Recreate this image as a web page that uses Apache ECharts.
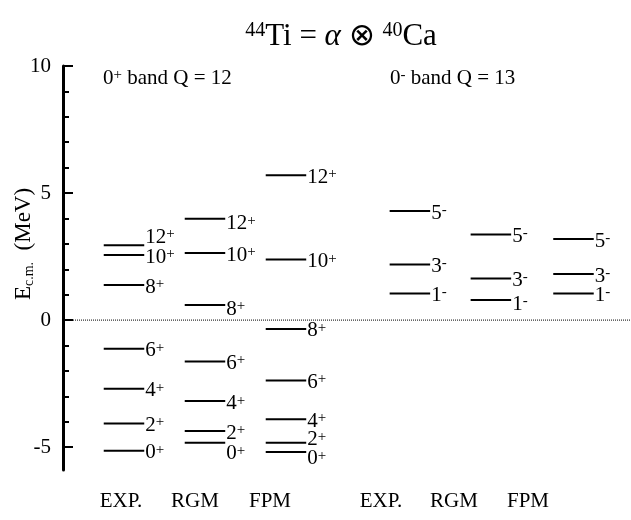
<!DOCTYPE html>
<html>
<head>
<meta charset="utf-8">
<title>44Ti alpha + 40Ca levels</title>
<script src="https://cdn.jsdelivr.net/npm/echarts@6/dist/echarts.min.js"></script>
<style>
  html, body { margin: 0; padding: 0; background: #fff; }
  #chart { width: 631px; height: 520px; }
</style>
</head>
<body>
<div id="chart"></div>
<script>
// Column names along the bottom
const columnNames = ['EXP.', 'RGM', 'FPM', 'EXP.', 'RGM', 'FPM'];

// Positive-parity band (0+ band, Q = 12): spins and energies (MeV, relative to the α + 40Ca threshold)
const spinsPos = ['0', '2', '4', '6', '8', '10', '12'];
const expPos = [-5.14, -4.07, -2.70, -1.13, 1.38, 2.56, 2.95];
const rgmPos = [-4.83, -4.37, -3.18, -1.63, 0.59, 2.64, 3.99];
const fpmPos = [-5.19, -4.83, -3.90, -2.38, -0.35, 2.38, 5.70];

// Negative-parity band (0- band, Q = 13)
const spinsNeg = ['1', '3', '5'];
const expNeg = [1.05, 2.19, 4.29];
const rgmNeg = [0.79, 1.64, 3.37];
const fpmNeg = [1.05, 1.81, 3.19];

// Y-axis tick labels
const yTickLabels = [-5, 0, 5, 10];
const yMinorTicks = [-5, -4, -3, -2, -1, 0, 1, 2, 3, 4, 5, 6, 7, 8, 9, 10];

// ---- layout (x-units along the hidden value axis) ----
const layout = {
  colX: [0, 1, 2, 3.53, 4.53, 5.55],
  nameX: [-0.037, 0.877, 1.803, 3.173, 4.074, 4.988],
  half: 0.25,
  xMin: -0.753,
  xMax: 6.26
};
// vertical nudges (px) for level labels that would otherwise collide
const labelShift = { '0-6': -8, '1-0': 11, '1-4': 4, '1-6': 5, '1-2': 3, '2-0': 7, '2-1': -3, '4-0': 4 };

const FONT = "'Liberation Serif', 'Times New Roman', serif";

const columns = [
  { values: expPos, spins: spinsPos, sign: '+' },
  { values: rgmPos, spins: spinsPos, sign: '+' },
  { values: fpmPos, spins: spinsPos, sign: '+' },
  { values: expNeg, spins: spinsNeg, sign: '-' },
  { values: rgmNeg, spins: spinsNeg, sign: '-' },
  { values: fpmNeg, spins: spinsNeg, sign: '-' }
];

const levels = [];
columns.forEach((col, c) => {
  col.values.forEach((e, i) => {
    levels.push({ value: [layout.colX[c], e], spin: col.spins[i], sign: col.sign, key: c + '-' + i });
  });
});

const supRich = {
  n: { fontFamily: FONT, fontSize: 21, lineHeight: 21, color: '#000' },
  s: { fontFamily: FONT, fontSize: 15, lineHeight: 14, verticalAlign: 'top', color: '#000' }
};

function renderLevel(params, api) {
  const lv = levels[params.dataIndex];
  const x = api.value(0), e = api.value(1);
  const p0 = api.coord([x - layout.half, e]);
  const p1 = api.coord([x + layout.half, e]);
  const dy = labelShift[lv.key] !== undefined ? labelShift[lv.key] : 2;
  return {
    type: 'group',
    children: [
      {
        type: 'line',
        shape: { x1: p0[0], y1: p0[1], x2: p1[0], y2: p1[1] },
        style: { stroke: '#000', lineWidth: 2 }
      },
      {
        type: 'text',
        x: p1[0] + 1,
        y: p1[1] + dy,
        style: {
          text: '{n|' + lv.spin + '}{s|' + lv.sign + '}',
          rich: supRich,
          align: 'left',
          verticalAlign: 'middle'
        }
      }
    ]
  };
}

const chart = echarts.init(document.getElementById('chart'), null, { renderer: 'canvas' });

chart.setOption({
  backgroundColor: '#fff',
  animation: false,
  grid: { left: 63, right: 0, top: 66, bottom: 50, containLabel: false },
  xAxis: {
    type: 'value',
    min: layout.xMin,
    max: layout.xMax,
    axisLine: { show: false, onZero: false },
    axisTick: { show: false },
    splitLine: { show: false },
    axisLabel: {
      customValues: layout.nameX,
      formatter: function (v) {
        let best = 0, d = Infinity;
        layout.nameX.forEach((p, i) => { if (Math.abs(p - v) < d) { d = Math.abs(p - v); best = i; } });
        return columnNames[best];
      },
      margin: 21,
      fontFamily: FONT,
      fontSize: 21,
      color: '#000'
    }
  },
  yAxis: [
    {
      type: 'value',
      min: -5.9,
      max: 10,
      position: 'left',
      axisLine: { show: true, onZero: false, lineStyle: { color: '#000', width: 3 } },
      axisTick: { show: true, inside: true, length: 10, customValues: yTickLabels, lineStyle: { color: '#000', width: 2 } },
      axisLabel: { customValues: yTickLabels, margin: 12, fontFamily: FONT, fontSize: 21, color: '#000' },
      splitLine: { show: false }
    },
    {
      type: 'value',
      min: -5.9,
      max: 10,
      position: 'left',
      offset: 0,
      axisLine: { show: false, onZero: false },
      axisTick: { show: true, inside: true, length: 6, customValues: yMinorTicks, lineStyle: { color: '#000', width: 2 } },
      axisLabel: { show: false },
      splitLine: { show: false }
    }
  ],
  graphic: [
    {
      type: 'text',
      x: 341, y: 37,
      style: {
        text: '{s|44}{t|Ti = }{a|α}{t| ⊗ }{s|40}{t|Ca}',
        align: 'center',
        verticalAlign: 'middle',
        rich: {
          t: { fontFamily: FONT, fontSize: 31, lineHeight: 32, color: '#000' },
          a: { fontFamily: FONT, fontSize: 31, lineHeight: 32, fontStyle: 'italic', color: '#000' },
          s: { fontFamily: FONT, fontSize: 20, lineHeight: 20, verticalAlign: 'top', color: '#000' }
        }
      }
    },
    {
      type: 'text',
      x: 103, y: 78,
      style: {
        text: '{n|0}{s|+}{n| band Q = 12}',
        verticalAlign: 'middle',
        rich: supRich
      }
    },
    {
      type: 'text',
      x: 390, y: 78,
      style: {
        text: '{n|0}{s|-}{n| band Q = 13}',
        verticalAlign: 'middle',
        rich: supRich
      }
    },
    {
      type: 'text',
      x: 24, y: 244,
      rotation: Math.PI / 2,
      style: {
        text: '{e|E}{b|c.m.}{e|  (MeV)}',
        align: 'center',
        verticalAlign: 'middle',
        rich: {
          e: { fontFamily: FONT, fontSize: 23, lineHeight: 24, color: '#000' },
          b: { fontFamily: FONT, fontSize: 14, lineHeight: 14, verticalAlign: 'bottom', color: '#000' }
        }
      }
    }
  ],
  series: [
    {
      name: 'zero',
      type: 'line',
      data: [[layout.xMin, 0], [layout.xMax, 0]],
      symbol: 'none',
      silent: true,
      lineStyle: { color: '#000', width: 1, type: 'dotted' },
      z: 1
    },
    {
      name: 'levels',
      type: 'custom',
      data: levels.map(l => l.value),
      renderItem: renderLevel,
      clip: false,
      z: 2
    }
  ]
});
</script>
</body>
</html>
